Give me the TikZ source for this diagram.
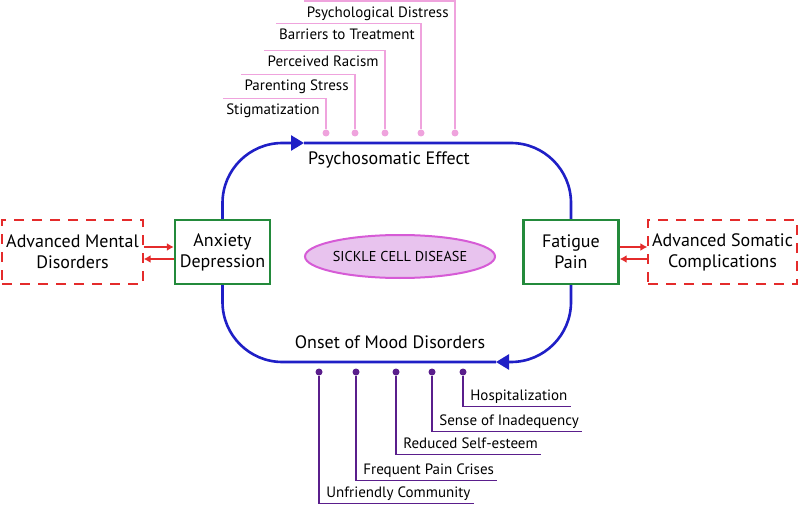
\documentclass[tikz,border=0pt]{standalone}
\usepackage{fontspec}
\setmainfont{PT Sans}
\usetikzlibrary{arrows.meta,shapes.geometric}
\definecolor{loopblue}{HTML}{1F1FC6}
\definecolor{boxgreen}{HTML}{238A3B}
\definecolor{arrred}{HTML}{E42B2B}
\definecolor{lightpink}{HTML}{EFA3DD}
\definecolor{darkpurple}{HTML}{5A1E8C}
\definecolor{scdfill}{HTML}{E8C3EE}
\definecolor{scdline}{HTML}{D65BD6}
\tikzset{> = latex,
	symbox/.style={draw=boxgreen, line width=2.4pt, minimum width=95pt, minimum height=64pt, inner xsep=1pt, align=center, font=\fontsize{18}{21}\selectfont},
	advbox/.style={draw=arrred, line width=1.3pt, dash pattern=on 10pt off 8pt, minimum height=64pt, inner xsep=1pt, align=center, font=\fontsize{18}{21}\selectfont},
	loopline/.style={draw=loopblue, line width=2.6pt, rounded corners=60pt},
	redarrow/.style={draw=arrred, line width=1.8pt, -{Latex[length=7pt,width=8pt]}},
	topdot/.style={circle, fill=lightpink, inner sep=0pt, minimum size=7pt},
	botdot/.style={circle, fill=darkpurple, inner sep=0pt, minimum size=7pt},
	toplabel/.style={anchor=base east, inner xsep=3pt, inner ysep=0pt, text height=16pt, font=\fontsize{15}{18}\selectfont},
	botlabel/.style={anchor=base west, inner xsep=3pt, inner ysep=0pt, text depth=6pt, font=\fontsize{15}{18}\selectfont}}

\begin{document}
\begin{tikzpicture}[x=1pt,y=-1pt,thick]
	\useasboundingbox (0,0) rectangle (800,505);
	\node[symbox] (anx) at (222.5,252) {Anxiety\\Depression};
	\node[symbox] (fat) at (571,252) {Fatigue\\Pain};
	\node[advbox, minimum width=141pt] (mental) at (72.5,252) {Advanced Mental\\Disorders};
	\node[advbox, minimum width=149pt] (somatic) at (722.5,252) {Advanced Somatic\\Complications};
	\node[ellipse, draw=scdline, fill=scdfill, line width=2pt, minimum width=156pt, minimum height=43pt, inner sep=0pt, font=\fontsize{14.3}{17}\selectfont] (scd) at (400,256.5) {SICKLE CELL DISEASE};
	\coordinate (toparrow) at (304,143);
	\coordinate (botarrow) at (496,362);
	\draw[loopline, -{Triangle[length=13pt,width=15pt]}] (anx.north) |- (toparrow);
	\draw[loopline] (toparrow) -| (fat.north);
	\draw[loopline, -{Triangle[length=13pt,width=15pt]}] (fat.south) |- (botarrow);
	\draw[loopline] (botarrow) -| (anx.south);
	\node[font=\fontsize{18}{21}\selectfont] (psy) at (389,160) {Psychosomatic Effect};
	\node[font=\fontsize{18}{21}\selectfont] (mood) at (390,342) {Onset of Mood Disorders};
	\draw[redarrow] ([yshift=5pt]mental.east) -- ([yshift=5pt]anx.west);
	\draw[redarrow] ([yshift=-7pt]anx.west) -- ([yshift=-7pt]mental.east);
	\draw[redarrow] ([yshift=5pt]fat.east) -- ([yshift=5pt]somatic.west);
	\draw[redarrow] ([yshift=-7pt]somatic.west) -- ([yshift=-7pt]fat.east);
	\foreach \x/\ly/\txt [count=\i] in {326/99/Stigmatization, 355/75/Parenting Stress, 385/51/Perceived Racism, 421/24/Barriers to Treatment, 455/1.5/Psychological Distress}{
		\node[topdot] (td\i) at (\x,133) {};
		\node[toplabel] (tl\i) at (\x-3,\ly+16) {\txt};
		\draw[lightpink, line width=1.2pt] (td\i) |- (tl\i.north west);
	}
	\foreach \x/\ly/\txt [count=\i] in {463/406/Hospitalization, 432/431/Sense of Inadequency, 396/454/Reduced Self-esteem, 356/480/Frequent Pain Crises, 319/503/Unfriendly Community}{
		\node[botdot] (bd\i) at (\x,372) {};
		\node[botlabel] (bl\i) at (\x+4,\ly-6) {\txt};
		\draw[darkpurple, line width=1.2pt] (bd\i) |- (bl\i.south east);
	}
\end{tikzpicture}
\end{document}
